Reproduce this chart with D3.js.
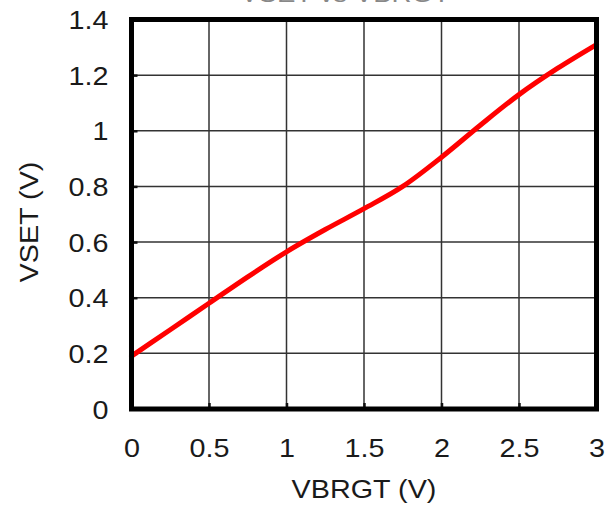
<!DOCTYPE html>
<html>
<head>
<meta charset="utf-8">
<script src="https://cdn.jsdelivr.net/npm/d3@7"></script>
<style>
  html, body { margin: 0; padding: 0; background: #fff; }
  svg { display: block; }
  text { font-family: "Liberation Sans", Arial, sans-serif; fill: #1a1a1a; }
</style>
</head>
<body>
<svg id="chart" width="614" height="508"></svg>
<script>
// VSET output voltage versus VBRGT input voltage
const vbrgt = [0, 0.25, 0.5, 0.75, 1, 1.25, 1.5, 1.75, 2, 2.25, 2.5, 2.75, 3];
const vset  = [0.19, 0.285, 0.38, 0.475, 0.565, 0.645, 0.72, 0.80, 0.905, 1.02, 1.13, 1.225, 1.31];
const xTicks = [0, 0.5, 1, 1.5, 2, 2.5, 3];
const yTicks = [0, 0.2, 0.4, 0.6, 0.8, 1, 1.2, 1.4];
const xTitle = "VBRGT (V)";
const yTitle = "VSET (V)";
const chartTitle = "VSET vs VBRGT";

const svg = d3.select("#chart");
const plotLeft = 131.5, plotRight = 596.5, plotTop = 19.5, plotBottom = 409;
const sx = 1.15; // horizontal stretch of the label lettering

const x = d3.scaleLinear().domain([0, 3]).range([plotLeft, plotRight]);
const y = d3.scaleLinear().domain([0, 1.4]).range([plotBottom, plotTop]);

// title, sitting mostly above the visible area
svg.append("text")
  .attr("transform", `translate(345,1.5) scale(${sx},1)`)
  .attr("text-anchor", "middle")
  .style("font-size", "24px")
  .style("fill", "#888")
  .text(chartTitle);

// grid
const grid = svg.append("g");
grid.selectAll("line.gx").data(xTicks.slice(1, -1)).join("line")
  .attr("x1", d => x(d)).attr("x2", d => x(d))
  .attr("y1", plotTop).attr("y2", plotBottom)
  .attr("stroke", "#333").attr("stroke-width", 1.5);
grid.selectAll("line.gy").data(yTicks.slice(1, -1)).join("line")
  .attr("y1", d => y(d)).attr("y2", d => y(d))
  .attr("x1", plotLeft).attr("x2", plotRight)
  .attr("stroke", "#333").attr("stroke-width", 1.5);

// axes (ticks point inward, labels drawn separately)
const xAxis = svg.append("g").attr("transform", `translate(0,${plotBottom})`)
  .call(d3.axisBottom(x).tickValues(xTicks).tickSize(-6).tickFormat(""));
const yAxis = svg.append("g").attr("transform", `translate(${plotLeft},0)`)
  .call(d3.axisLeft(y).tickValues(yTicks).tickSize(-6).tickFormat(""));
[xAxis, yAxis].forEach(g => {
  g.select(".domain").remove();
  g.selectAll(".tick line").attr("stroke", "#111").attr("stroke-width", 2.5);
});

xAxis.selectAll(".tick").append("text")
  .attr("transform", `translate(0,48) scale(${sx},1)`)
  .attr("text-anchor", "middle")
  .style("font-size", "25px")
  .text(d => d3.format("~g")(d));

yAxis.selectAll(".tick").append("text")
  .attr("transform", `translate(-23,9) scale(${sx},1)`)
  .attr("text-anchor", "end")
  .style("font-size", "25px")
  .text(d => d3.format("~g")(d));

// data line
const line = d3.line().x((d, i) => x(vbrgt[i])).y(d => y(d)).curve(d3.curveMonotoneX);
svg.append("path")
  .datum(vset)
  .attr("d", line)
  .attr("fill", "none")
  .attr("stroke", "#ff0000")
  .attr("stroke-width", 5)
  .attr("stroke-linecap", "round")
  .attr("stroke-linejoin", "round");

// frame
svg.append("rect")
  .attr("x", plotLeft).attr("y", plotTop)
  .attr("width", plotRight - plotLeft).attr("height", plotBottom - plotTop)
  .attr("fill", "none").attr("stroke", "#000").attr("stroke-width", 5);

// axis titles
svg.append("text")
  .attr("transform", `translate(364,498) scale(${sx},1)`)
  .attr("text-anchor", "middle")
  .style("font-size", "25px")
  .text(xTitle);

svg.append("text")
  .attr("transform", `translate(38,222) rotate(-90) scale(${sx},1)`)
  .attr("text-anchor", "middle")
  .style("font-size", "25px")
  .text(yTitle);
</script>
</body>
</html>
